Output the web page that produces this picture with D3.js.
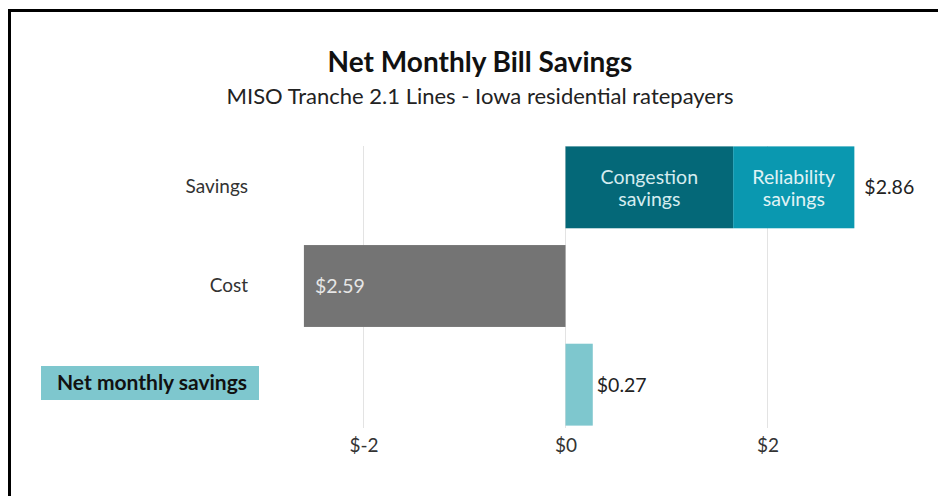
<!DOCTYPE html>
<html><head><meta charset="utf-8">
<script src="https://cdn.jsdelivr.net/npm/d3@7"></script>
<style>
html,body{margin:0;padding:0;background:#fff;}
svg{display:block;font-family:Lato,"Noto Sans",sans-serif;}
</style></head>
<body>
<svg id="chart" width="938" height="496"></svg>
<script>
const categories = ["Savings", "Cost", "Net monthly savings"];
const congestion = [1.66, 0, 0];
const reliability = [1.20, 0, 0];
const cost = [0, -2.59, 0];
const net = [0, 0, 0.27];
const totalLabels = ["$2.86", "$2.59", "$0.27"];
const tickValues = [-2, 0, 2];

const svg = d3.select("#chart");

svg.append("rect").attr("x", 9.5).attr("y", 10.5).attr("width", 940).attr("height", 500)
  .attr("fill", "none").attr("stroke", "#000").attr("stroke-width", 3);

svg.append("text").attr("x", 480).attr("y", 72).attr("text-anchor", "middle")
  .attr("font-size", 28).attr("font-weight", 700).attr("fill", "#111").text("Net Monthly Bill Savings");
svg.append("text").attr("x", 480).attr("y", 104).attr("text-anchor", "middle")
  .attr("font-size", 22).attr("fill", "#222").text("MISO Tranche 2.1 Lines - Iowa residential ratepayers");

const x = d3.scaleLinear().domain([-3, 3]).range([262.5, 868.5]);
const y = d3.scaleBand().domain(categories).range([138, 434]).paddingInner(0.17).paddingOuter(0.085);

svg.append("g").selectAll("line").data(tickValues).join("line")
  .attr("x1", d => x(d)).attr("x2", d => x(d))
  .attr("y1", 146).attr("y2", 428)
  .attr("stroke", "#e3e3e3").attr("stroke-width", 1);

const axis = d3.axisBottom(x).tickValues(tickValues).tickFormat(d => "$" + d).tickSize(0).tickPadding(0);
const ax = svg.append("g").attr("transform", "translate(0,438)").call(axis);
ax.select(".domain").remove();
ax.selectAll("text").attr("font-size", 19).attr("fill", "#333").attr("font-family", "Lato,'Noto Sans',sans-serif");

const bh = y.bandwidth();
svg.append("g").selectAll("rect").data(categories).join("rect")
  .attr("x", (d, i) => x(0)).attr("y", d => y(d))
  .attr("width", (d, i) => x(congestion[i]) - x(0)).attr("height", bh)
  .attr("fill", "#046878");
svg.append("g").selectAll("rect").data(categories).join("rect")
  .attr("x", (d, i) => x(congestion[i])).attr("y", d => y(d))
  .attr("width", (d, i) => x(congestion[i] + reliability[i]) - x(congestion[i])).attr("height", bh)
  .attr("fill", "#0a98b0");
svg.append("g").selectAll("rect").data(categories).join("rect")
  .attr("x", (d, i) => x(cost[i])).attr("y", d => y(d))
  .attr("width", (d, i) => x(0) - x(cost[i])).attr("height", bh)
  .attr("fill", "#747474");
svg.append("g").selectAll("rect").data(categories).join("rect")
  .attr("x", (d, i) => x(0)).attr("y", d => y(d))
  .attr("width", (d, i) => x(net[i]) - x(0)).attr("height", bh)
  .attr("fill", "#7ec7ce");

function twoLine(cx, cy, lines, color) {
  lines.forEach((l, k) => svg.append("text").attr("x", cx).attr("y", cy - 3 + k * 21.5)
    .attr("text-anchor", "middle").attr("font-size", 19.5).attr("fill", color).text(l));
}
const sy = y("Savings") + bh / 2;
twoLine((x(0) + x(congestion[0])) / 2, sy, ["Congestion", "savings"], "#d5ecef");
twoLine((x(congestion[0]) + x(congestion[0] + reliability[0])) / 2, sy, ["Reliability", "savings"], "#e0f3f5");

svg.append("text").attr("x", x(congestion[0] + reliability[0]) + 10).attr("y", sy + 7)
  .attr("font-size", 19.5).attr("fill", "#222").text(totalLabels[0]);
const cy = y("Cost") + bh / 2;
svg.append("text").attr("x", x(cost[1]) + 11).attr("y", cy + 7)
  .attr("font-size", 19.5).attr("fill", "#e6e6e6").text(totalLabels[1]);
const ny = y("Net monthly savings") + bh / 2;
svg.append("text").attr("x", x(net[2]) + 4).attr("y", ny + 7)
  .attr("font-size", 19.5).attr("fill", "#222").text(totalLabels[2]);

svg.append("text").attr("x", 248).attr("y", sy + 6).attr("text-anchor", "end")
  .attr("font-size", 19).attr("fill", "#333").text(categories[0]);
svg.append("text").attr("x", 248).attr("y", cy + 6).attr("text-anchor", "end")
  .attr("font-size", 19).attr("fill", "#333").text(categories[1]);
svg.append("rect").attr("x", 41).attr("y", 366).attr("width", 218).attr("height", 34).attr("fill", "#7ec7ce");
svg.append("text").attr("x", 57).attr("y", 390)
  .attr("font-size", 21).attr("font-weight", 700).attr("fill", "#111").text(categories[2]);
</script>
</body></html>
